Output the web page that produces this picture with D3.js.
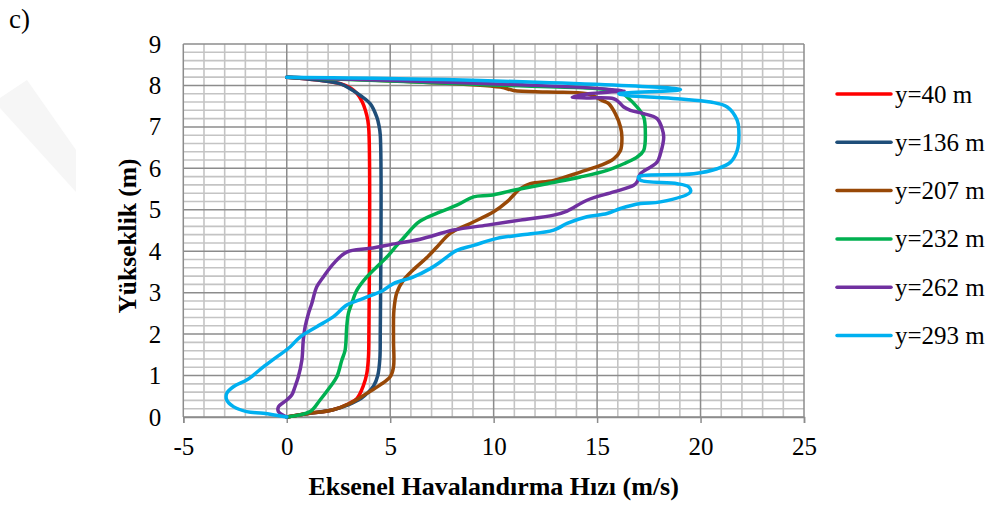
<!DOCTYPE html>
<html>
<head>
<meta charset="utf-8">
<script src="https://cdn.jsdelivr.net/npm/d3@7"></script>
<style>
  body { margin: 0; background: #fff; }
  text { font-family: "Liberation Serif", "Times New Roman", serif; fill: #000; }
</style>
</head>
<body>
<div id="vis"></div>
<script>
// series names and colours
const seriesNames = ['y=40 m', 'y=136 m', 'y=207 m', 'y=232 m', 'y=262 m', 'y=293 m'];
const seriesColors = ['#ff0000', '#1f4e79', '#984807', '#00b050', '#7030a0', '#00b0f0'];

// tick labels
const xTicks = [-5, 0, 5, 10, 15, 20, 25];
const yTicks = [0, 1, 2, 3, 4, 5, 6, 7, 8, 9];

// [hiz (m/s), yukseklik (m)]
const y40 = [[0,0],[1.1,0.09],[2.2,0.17],[3.0,0.32],[3.4,0.45],[3.7,0.75],[3.87,1.05],[3.95,1.45],[3.97,2],[3.97,6.9],
  [3.92,7.15],[3.8,7.4],[3.65,7.6],[3.4,7.8],[3.1,7.93],[2.6,8.04],[1.5,8.13],[0,8.2]];
const y136 = [[0,0],[1.1,0.09],[2.2,0.17],[3.0,0.3],[3.6,0.45],[3.95,0.6],[4.2,0.75],[4.4,1.0],[4.5,1.4],[4.52,2],[4.52,6.8],
  [4.45,7.05],[4.35,7.24],[4.05,7.55],[3.55,7.76],[3.06,7.92],[2.6,8.04],[1.5,8.13],[0,8.2]];
const y207 = [[0,0],[1.1,0.09],[2.2,0.17],[3.06,0.33],[3.87,0.57],[4.5,0.77],[5.0,0.97],[5.16,1.21],[5.16,1.86],[5.18,2.58],
  [5.32,3.0],[5.64,3.3],[6.13,3.56],[6.8,3.86],[7.26,4.1],[7.9,4.43],[8.87,4.67],[10.0,4.95],[10.64,5.19],[11.29,5.51],
  [11.77,5.63],[12.9,5.71],[14.19,5.91],[15.16,6.07],[15.8,6.23],[16.13,6.43],[16.2,6.75],[16.13,7.0],[15.88,7.32],
  [15.56,7.56],[15.32,7.62],[14.51,7.8],[12.58,7.84],[10.96,7.88],[10.32,7.96],[0,8.2]];
const y232 = [[0,0],[1.13,0.13],[1.61,0.41],[2.1,0.73],[2.42,0.97],[2.66,1.37],[2.82,1.61],[2.9,2.18],[2.98,2.5],[3.14,2.74],
  [3.39,3.06],[3.87,3.38],[4.51,3.7],[4.84,3.86],[5.32,4.14],[5.56,4.27],[6.13,4.59],[6.45,4.73],[7.42,4.95],[8.22,5.11],
  [9.03,5.31],[9.84,5.35],[10.96,5.47],[12.58,5.63],[14.19,5.79],[15.48,5.95],[16.29,6.11],[16.93,6.27],[17.25,6.43],
  [17.33,6.92],[17.25,7.24],[16.93,7.48],[16.45,7.72],[16.13,7.84],[9.35,8.02],[0,8.2]];
const y262 = [[0,0],[-0.4,0.13],[-0.4,0.25],[0,0.41],[0.24,0.53],[0.4,0.73],[0.56,0.97],[0.73,1.37],[0.8,1.86],[0.89,2.18],
  [1.05,2.5],[1.21,2.74],[1.45,3.14],[1.77,3.38],[2.26,3.7],[2.9,3.98],[4.03,4.07],[5.32,4.19],[6.45,4.29],[8.06,4.51],
  [9.68,4.63],[11.29,4.75],[12.9,4.87],[13.55,4.97],[14.51,5.23],[15.8,5.43],[16.77,5.59],[16.93,5.67],[17.1,5.87],
  [17.58,6.03],[17.9,6.15],[18.06,6.35],[18.22,6.75],[18.14,6.96],[17.9,7.2],[17.25,7.32],[16.61,7.4],[16.29,7.48],
  [16.05,7.6],[15.8,7.68],[14.5,7.7],[13.8,7.72],[14.6,7.8],[16.3,7.88],[0,8.2]];
const y293 = [[0,0],[-1.13,0.09],[-1.94,0.13],[-2.58,0.25],[-2.9,0.41],[-2.9,0.57],[-2.58,0.73],[-1.94,0.89],[-1.61,1.01],
  [-1.13,1.21],[-0.48,1.45],[0.16,1.69],[0.64,1.93],[1.45,2.18],[2.26,2.42],[2.9,2.7],[3.71,2.86],[4.67,3.06],[5.16,3.22],
  [6.13,3.38],[6.93,3.58],[7.42,3.74],[8.22,4.02],[9.03,4.14],[10.16,4.31],[11.29,4.39],[12.9,4.51],[13.55,4.67],
  [14.51,4.83],[15.48,4.91],[16.13,5.03],[17.1,5.15],[18.06,5.19],[19.51,5.43],[19.43,5.55],[18.87,5.63],[17.1,5.71],
  [17.0,5.79],[17.25,5.83],[19.67,5.87],[20.8,5.99],[21.45,6.15],[21.77,6.43],[21.85,6.92],[21.77,7.16],[21.29,7.48],
  [20.48,7.6],[18.87,7.68],[16.45,7.76],[16.05,7.8],[19.03,7.9],[9.35,8.12],[0,8.2]];

const seriesData = [y40, y136, y207, y232, y262, y293];

const W = 999, H = 507;
const plot = {left: 183.3, right: 804, top: 44, bottom: 417};

const svg = d3.select('#vis').append('svg')
    .attr('width', W)
    .attr('height', H);

// faint watermark on the left
svg.append('path')
    .attr('d', 'M0,98 L27,80 L76,150 L76,192 L0,108 Z')
    .attr('fill', '#f6f6f6');

const x = d3.scaleLinear().domain([-5, 25]).range([plot.left, plot.right]);
const y = d3.scaleLinear().domain([0, 9]).range([plot.bottom, plot.top]);

// grid: minor lines first, major on top
const grid = svg.append('g');
grid.selectAll('.vminor')
    .data(d3.range(-5, 26).filter(v => v % 5 !== 0))
    .join('line')
    .attr('x1', d => x(d)).attr('x2', d => x(d))
    .attr('y1', plot.top).attr('y2', plot.bottom)
    .attr('stroke', '#c4c4c4').attr('stroke-width', 1.6);
grid.selectAll('.hminor')
    .data(d3.range(0, 45).map(i => i * 0.2).filter((v, i) => i % 5 !== 0))
    .join('line')
    .attr('x1', plot.left).attr('x2', plot.right)
    .attr('y1', d => y(d)).attr('y2', d => y(d))
    .attr('stroke', '#c4c4c4').attr('stroke-width', 1.6);
grid.selectAll('.vmajor')
    .data(xTicks)
    .join('line')
    .attr('x1', d => x(d)).attr('x2', d => x(d))
    .attr('y1', plot.top).attr('y2', plot.bottom)
    .attr('stroke', '#8c8c8c').attr('stroke-width', 1.5);
grid.selectAll('.hmajor')
    .data(yTicks)
    .join('line')
    .attr('x1', plot.left).attr('x2', plot.right)
    .attr('y1', d => y(d)).attr('y2', d => y(d))
    .attr('stroke', '#8c8c8c').attr('stroke-width', 1.5);

// x axis with ticks below
const xAxis = svg.append('g')
    .attr('transform', `translate(0,${plot.bottom})`)
    .call(d3.axisBottom(x).tickValues(xTicks).tickFormat(d => String(d)).tickSize(6).tickPadding(14));
xAxis.select('.domain').attr('stroke', '#8c8c8c').attr('stroke-width', 1.5);
xAxis.selectAll('.tick line').attr('stroke', '#8c8c8c').attr('stroke-width', 1.5);
xAxis.selectAll('.tick text')
    .style('font-family', '"Liberation Serif", serif')
    .style('font-size', '25px').attr('fill', '#000');

// y axis labels only
const yAxis = svg.append('g')
    .attr('transform', `translate(${plot.left},0)`)
    .call(d3.axisLeft(y).tickValues(yTicks).tickSize(0).tickPadding(22));
yAxis.select('.domain').remove();
yAxis.selectAll('.tick text')
    .style('font-family', '"Liberation Serif", serif')
    .style('font-size', '25px').attr('fill', '#000');

// series
const line = d3.line()
    .x(d => x(d[0]))
    .y(d => y(d[1]))
    .curve(d3.curveCatmullRom.alpha(0.5));

svg.append('g').selectAll('path')
    .data(seriesData)
    .join('path')
    .attr('d', line)
    .attr('fill', 'none')
    .attr('stroke', (d, i) => seriesColors[i])
    .attr('stroke-width', 3.5)
    .attr('stroke-linejoin', 'round')
    .attr('stroke-linecap', 'round');

// legend
const legend = svg.append('g');
const leg = legend.selectAll('g')
    .data(seriesNames)
    .join('g')
    .attr('transform', (d, i) => `translate(837,${94 + i * 48.3})`);
leg.append('line')
    .attr('x1', 0).attr('x2', 54)
    .attr('stroke', (d, i) => seriesColors[i])
    .attr('stroke-width', 3.5)
    .attr('stroke-linecap', 'round');
leg.append('text')
    .attr('x', 58).attr('y', 8.5)
    .style('font-size', '25px')
    .text(d => d);

// axis titles
svg.append('text')
    .attr('x', (plot.left + plot.right) / 2)
    .attr('y', 495)
    .attr('text-anchor', 'middle')
    .style('font-size', '26px')
    .style('font-weight', 'bold')
    .text('Eksenel Havalandırma Hızı (m/s)');

svg.append('text')
    .attr('transform', 'rotate(-90)')
    .attr('x', -236)
    .attr('y', 136)
    .attr('text-anchor', 'middle')
    .style('font-size', '25.5px')
    .style('font-weight', 'bold')
    .text('Yükseklik (m)');

svg.append('text')
    .attr('x', 9)
    .attr('y', 28)
    .style('font-size', '27px')
    .text('c)');
</script>
</body>
</html>
